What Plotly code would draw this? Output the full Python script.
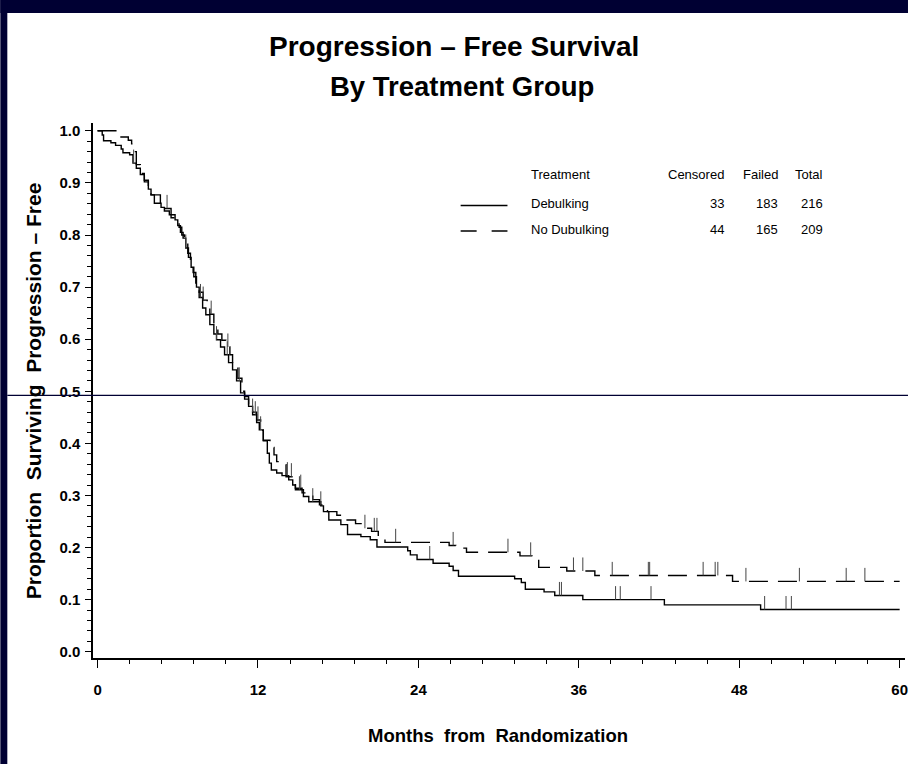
import plotly.graph_objects as go

# ---------------- data ----------------
# Debulking (solid): step times (months) and survival after each step
deb_t = [0, 0.35, 0.45, 1.0, 1.35, 1.77, 1.9, 2.4, 2.65, 2.9,
         3.2, 3.5, 3.8, 4.0, 4.25, 4.75, 5.0, 5.37, 5.8, 6.0,
         6.2, 6.4, 6.6, 6.8, 7.0, 7.2, 7.4, 7.6, 7.86, 8.1,
         8.4, 8.7, 8.9, 9.2, 9.5, 9.8, 10.1, 10.4, 10.7, 11.0,
         11.3, 11.6, 11.9, 12.1, 12.4, 12.7, 12.85, 13.0, 13.4, 13.8,
         14.3, 14.6, 14.8, 15.4, 15.8, 16.7, 16.9, 17.3, 18.2, 18.7,
         19.7, 20.4, 20.9, 23.2, 23.4, 23.9, 25.1, 26.3, 26.6, 27.0,
         31.2, 31.7, 32.0, 33.4, 34.2, 36.3, 42.4, 49.6]
deb_s = [1.0, 0.992, 0.981, 0.977, 0.972, 0.965, 0.958, 0.954, 0.938, 0.928,
         0.916, 0.902, 0.888, 0.877, 0.861, 0.853, 0.846, 0.839, 0.829, 0.818,
         0.805, 0.794, 0.775, 0.757, 0.738, 0.72, 0.70, 0.68, 0.66, 0.647,
         0.628, 0.61, 0.599, 0.585, 0.57, 0.555, 0.541, 0.52, 0.497, 0.485,
         0.471, 0.455, 0.44, 0.426, 0.405, 0.381, 0.362, 0.349, 0.343, 0.338,
         0.33, 0.32, 0.311, 0.298, 0.288, 0.28, 0.269, 0.253, 0.244, 0.225,
         0.221, 0.215, 0.201, 0.194, 0.186, 0.177, 0.170, 0.164, 0.156, 0.145,
         0.140, 0.133, 0.120, 0.115, 0.108, 0.100, 0.090, 0.081]
deb_censor = [2.7, 6.6, 7.7, 8.9, 9.7, 10.6, 11.8, 12.2, 14.2, 15.1, 16.1,
              24.85, 34.55, 34.7, 38.75, 39.1, 41.4, 49.9, 51.5, 51.9]

# No Debulking (dashed)
nod_t = [0, 1.45, 2.3, 2.55, 2.75, 2.9, 3.2, 3.5, 3.8, 4.0,
         4.7, 5.5, 6.1, 6.3, 6.5, 6.75, 6.95, 7.15, 7.35, 7.6,
         7.9, 8.2, 8.4, 8.7, 9.0, 9.3, 9.6, 9.9, 10.1, 10.3,
         10.5, 10.8, 11.0, 11.3, 11.6, 11.9, 12.2, 12.4, 12.9, 13.2,
         13.4, 13.7, 14.1, 14.8, 15.3, 16.1, 16.6, 17.2, 17.9, 18.6,
         19.3, 20.0, 20.5, 21.0, 21.5, 26.3, 26.8, 27.6, 31.6, 32.5,
         33.0, 35.1, 37.2, 47.5]
nod_s = [1.0, 0.988, 0.982, 0.975, 0.96, 0.935, 0.918, 0.905, 0.89, 0.877,
         0.851, 0.833, 0.815, 0.80, 0.785, 0.765, 0.745, 0.728, 0.708, 0.69,
         0.675, 0.665, 0.648, 0.628, 0.61, 0.598, 0.585, 0.57, 0.555, 0.547,
         0.525, 0.50, 0.49, 0.475, 0.46, 0.445, 0.425, 0.406, 0.392, 0.378,
         0.365, 0.359, 0.336, 0.314, 0.305, 0.292, 0.282, 0.269, 0.262, 0.253,
         0.246, 0.237, 0.231, 0.221, 0.210, 0.204, 0.199, 0.191, 0.184, 0.177,
         0.162, 0.155, 0.1465, 0.135]
nod_censor = [5.2, 7.9, 8.5, 9.75, 11.6, 12.0, 14.5, 15.2, 16.7, 20.0, 20.7,
              20.9, 22.3, 26.6, 30.7, 32.4, 35.6, 36.3, 38.5, 41.2, 41.3,
              45.3, 46.2, 46.4, 48.5, 52.5, 56.0, 57.4]

assert len(deb_t) == len(deb_s) and len(nod_t) == len(nod_s)

groups = ["Debulking", "No Dubulking"]
censored = [33, 44]
failed = [183, 165]
total = [216, 209]
table_header = ["Treatment", "Censored", "Failed", "Total"]

x_ticks = [0, 12, 24, 36, 48, 60]
y_ticks = [0.0, 0.1, 0.2, 0.3, 0.4, 0.5, 0.6, 0.7, 0.8, 0.9, 1.0]
median_ref = 0.492
t_end = 60

# ---------------- layout constants ----------------
W, H = 911, 764
ML, MR, MT, MB = 93, 3, 123, 106
XR = [-0.34, 60.4]
YR = [-0.012, 1.015]
NAVY = "#000033"
FONT = "Liberation Sans, Arial, sans-serif"
PW, PH = W - ML - MR, H - MT - MB


def px_x(px):
    return (px - ML) / PW


def px_y(py):
    return (H - MB - py) / PH


def surv_at(ts, ss, c):
    v = ss[0]
    for t, s in zip(ts, ss):
        if t <= c:
            v = s
    return v


def censor_segments(ts, ss, cs, h=0.026):
    xs, ys = [], []
    for c in cs:
        v = surv_at(ts, ss, c)
        xs += [c, c, None]
        ys += [v, v + h, None]
    return xs, ys


fig = go.Figure()
fig.add_trace(go.Scatter(x=deb_t + [t_end], y=deb_s + [deb_s[-1]], mode="lines",
                         line=dict(color="black", width=1.4, shape="hv"),
                         showlegend=False, hoverinfo="skip"))
fig.add_trace(go.Scatter(x=nod_t + [t_end], y=nod_s + [nod_s[-1]], mode="lines",
                         line=dict(color="black", width=1.4, shape="hv", dash="19px,10px"),
                         showlegend=False, hoverinfo="skip"))
for ts, ss, cs in [(deb_t, deb_s, deb_censor), (nod_t, nod_s, nod_censor)]:
    cx, cy = censor_segments(ts, ss, cs)
    fig.add_trace(go.Scatter(x=cx, y=cy, mode="lines",
                             line=dict(color="#444444", width=1),
                             showlegend=False, hoverinfo="skip"))

shapes = []
# navy frame: top band and left border
shapes.append(dict(type="rect", xref="paper", yref="paper",
                   x0=px_x(0), x1=px_x(W), y0=px_y(13), y1=px_y(0),
                   fillcolor=NAVY, line=dict(width=0), layer="above"))
shapes.append(dict(type="rect", xref="paper", yref="paper",
                   x0=px_x(0), x1=px_x(7), y0=px_y(H), y1=px_y(0),
                   fillcolor=NAVY, line=dict(width=0), layer="above"))
# reference line near the median level, across the figure
ymed = (median_ref - YR[0]) / (YR[1] - YR[0])
shapes.append(dict(type="line", xref="paper", yref="paper",
                   x0=px_x(7), x1=px_x(W), y0=ymed, y1=ymed,
                   line=dict(color=NAVY, width=1.2), layer="above"))
# legend line samples
shapes.append(dict(type="line", xref="paper", yref="paper",
                   x0=px_x(462), x1=px_x(509), y0=px_y(205.5), y1=px_y(205.5),
                   line=dict(color="black", width=1.3)))
shapes.append(dict(type="line", xref="paper", yref="paper",
                   x0=px_x(462), x1=px_x(509), y0=px_y(231), y1=px_y(231),
                   line=dict(color="black", width=1.3, dash="16px,15px")))

ann = []
ann.append(dict(text="Progression – Free Survival", x=px_x(455.5), y=px_y(46),
                xref="paper", yref="paper", showarrow=False, xanchor="center", yanchor="middle",
                font=dict(family=FONT, size=28, color="black", weight="bold")))
ann.append(dict(text="By Treatment Group", x=px_x(463), y=px_y(86),
                xref="paper", yref="paper", showarrow=False, xanchor="center", yanchor="middle",
                font=dict(family=FONT, size=27.5, color="black", weight="bold")))
ann.append(dict(text="Proportion  Surviving  Progression – Free", x=px_x(33.5), y=0.5,
                xref="paper", yref="paper", showarrow=False, textangle=-90,
                xanchor="center", yanchor="middle",
                font=dict(family=FONT, size=21, color="black", weight="bold")))
ann.append(dict(text="Months  from  Randomization", x=px_x(499), y=px_y(735),
                xref="paper", yref="paper", showarrow=False, xanchor="center", yanchor="middle",
                font=dict(family=FONT, size=18.5, color="black", weight="bold")))

# table legend
tf = dict(family=FONT, size=13, color="black")
col_x = [531, 728, 783, 828]
rows_y = [174.5, 203.5, 229.5]
ann.append(dict(text=table_header[0], x=px_x(col_x[0]), y=px_y(rows_y[0]), xref="paper", yref="paper",
                showarrow=False, xanchor="left", yanchor="middle", font=tf))
for j in range(1, 4):
    ann.append(dict(text=table_header[j], x=px_x(col_x[j]), y=px_y(rows_y[0]), xref="paper", yref="paper",
                    showarrow=False, xanchor="right", yanchor="middle", font=tf))
for i, g in enumerate(groups):
    yy = px_y(rows_y[i + 1])
    ann.append(dict(text=g, x=px_x(col_x[0]), y=yy, xref="paper", yref="paper",
                    showarrow=False, xanchor="left", yanchor="middle", font=tf))
    for j, val in enumerate([censored[i], failed[i], total[i]]):
        ann.append(dict(text=str(val), x=px_x(col_x[j + 1]), y=yy, xref="paper", yref="paper",
                        showarrow=False, xanchor="right", yanchor="middle", font=tf))

tickfont = dict(family=FONT, size=15, color="black", weight="bold")
fig.update_layout(
    width=W, height=H, autosize=False,
    margin=dict(l=ML, r=MR, t=MT, b=MB, pad=0),
    paper_bgcolor="white", plot_bgcolor="white",
    showlegend=False,
    shapes=shapes, annotations=ann,
    xaxis=dict(range=XR, tickvals=x_ticks, ticktext=[str(v) for v in x_ticks],
               showgrid=False, zeroline=False, showline=True, linecolor="black", linewidth=1.5,
               ticks="outside", ticklen=8, tickwidth=1.3, tickcolor="black",
               ticklabelstandoff=9, tickfont=tickfont,
               minor=dict(dtick=2.4, tick0=0, ticks="outside", ticklen=4, tickwidth=1, tickcolor="black",
                          showgrid=False)),
    yaxis=dict(range=YR, tickvals=y_ticks, ticktext=[f"{v:.1f}" for v in y_ticks],
               showgrid=False, zeroline=False, showline=True, linecolor="black", linewidth=1.5,
               ticks="outside", ticklen=6, tickwidth=1.3, tickcolor="black",
               ticklabelstandoff=2, tickfont=tickfont,
               minor=dict(dtick=0.02, tick0=0, ticks="outside", ticklen=4, tickwidth=1, tickcolor="black",
                          showgrid=False)),
)

fig.write_html(
    "out.html",
    config={"displayModeBar": False, "responsive": False},
    post_script="document.documentElement.style.overflow='hidden';document.body.style.overflow='hidden';document.body.style.margin='0';",
)
